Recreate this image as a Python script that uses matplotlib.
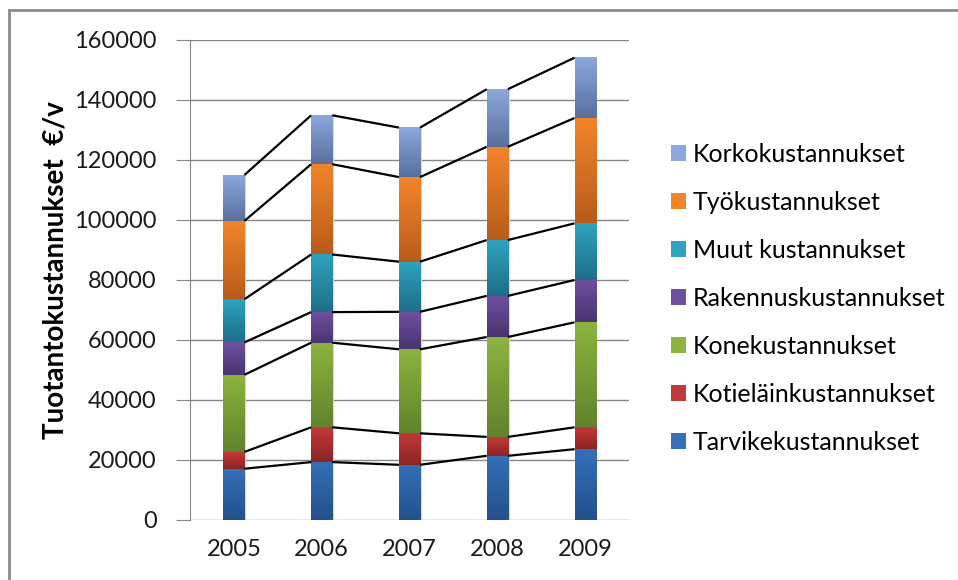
import numpy as np
import matplotlib
matplotlib.use("Agg")
import matplotlib.pyplot as plt
from matplotlib.colors import LinearSegmentedColormap
from matplotlib.patches import Rectangle

plt.rcParams['font.family'] = ['Lato', 'DejaVu Sans']

years = ['2005', '2006', '2007', '2008', '2009']

# cost components, bottom to top (euro / year)
tarvike = [17100, 19300, 18400, 21400, 23600]
kotielain = [5600, 11600, 10500, 6300, 7300]
kone = [25700, 28200, 28000, 33300, 35000]
rakennus = [10800, 10200, 12500, 13700, 14100]
muut = [14400, 19200, 16700, 18600, 18900]
tyo = [26100, 30100, 28200, 31100, 35100]
korko = [15300, 16300, 16500, 19200, 20100]

labels = ['Tarvikekustannukset', 'Kotieläinkustannukset', 'Konekustannukset',
          'Rakennuskustannukset', 'Muut kustannukset', 'Työkustannukset',
          'Korkokustannukset']

# (top colour, bottom colour) for the gradient fill
colors = [
    ('#3570b8', '#24508c'),
    ('#c3383a', '#8c2424'),
    ('#8cb43e', '#62832c'),
    ('#6f50a0', '#4a3470'),
    ('#2ea3bf', '#1d6f87'),
    ('#f2852a', '#b85c1a'),
    ('#8aa8db', '#5a6f9e'),
]

series = [tarvike, kotielain, kone, rakennus, muut, tyo, korko]

fig = plt.figure(figsize=(9.58, 5.8), dpi=100)
ax = fig.add_axes([190/958, 60/580, 439/958, 480/580])

x = np.arange(len(years))
w = 0.24
bottom = np.zeros(len(years))
grad = np.linspace(0, 1, 64).reshape(-1, 1)
handles = []
for vals, (top_c, bot_c), lab in zip(series, colors, labels):
    vals = np.array(vals, dtype=float)
    bars = ax.bar(x, vals, w, bottom=bottom, color=top_c, linewidth=0, zorder=3)
    cmap = LinearSegmentedColormap.from_list('g', [bot_c, top_c])
    for r in bars:
        x0, y0 = r.get_x(), r.get_y()
        ax.imshow(grad, extent=[x0, x0 + r.get_width(), y0, y0 + r.get_height()],
                  origin='lower', aspect='auto', cmap=cmap, zorder=4,
                  interpolation='bilinear')
        # soft shadow on the right
        ax.add_patch(Rectangle((x0 + r.get_width(), y0), 0.02, r.get_height(),
                               color='#d8d8d8', lw=0, zorder=2))
    bottom = bottom + vals
    # series lines between bars
    for i in range(len(years) - 1):
        ax.plot([x[i] + w/2, x[i+1] - w/2], [bottom[i], bottom[i+1]],
                color='black', lw=1.6, zorder=5, solid_capstyle='butt')
    handles.append(Rectangle((0, 0), 1, 1, facecolor=top_c, edgecolor='none'))

ax.set_xlim(-0.5, len(years) - 0.5)
ax.set_ylim(0, 160000)
ax.set_yticks(np.arange(0, 160001, 20000))
ax.set_xticks(x)
ax.set_xticklabels(years)
ax.yaxis.grid(True, color='#868686', lw=1, zorder=0)
ax.set_axisbelow(True)
for s in ['top', 'right', 'bottom']:
    ax.spines[s].set_visible(False)
ax.spines['left'].set_color('#868686')
ax.tick_params(axis='y', length=10, color='#868686', labelsize=17, pad=14,
               colors='#1a1a1a')
ax.tick_params(axis='y', color='#868686')
ax.tick_params(axis='x', length=0, labelsize=17, pad=14, colors='#1a1a1a')
ax.set_ylabel('Tuotantokustannukset  €/v', fontsize=20, fontweight='bold')
ax.yaxis.set_label_coords(-0.276, 0.52)

leg = fig.legend(handles[::-1], labels[::-1], loc='center left',
                 bbox_to_anchor=(648/958, 1 - 298/580), frameon=False,
                 fontsize=18, handlelength=0.6, handleheight=0.6,
                 handletextpad=0.3, labelspacing=1.0)

# outer frame of the chart area
fig.add_artist(Rectangle((9/958, -0.1), 1.2, 1 - 10/580 + 0.1,
                         transform=fig.transFigure, fill=False,
                         edgecolor='#8a8a8a', lw=2))

fig.savefig('out.png', dpi=100)
